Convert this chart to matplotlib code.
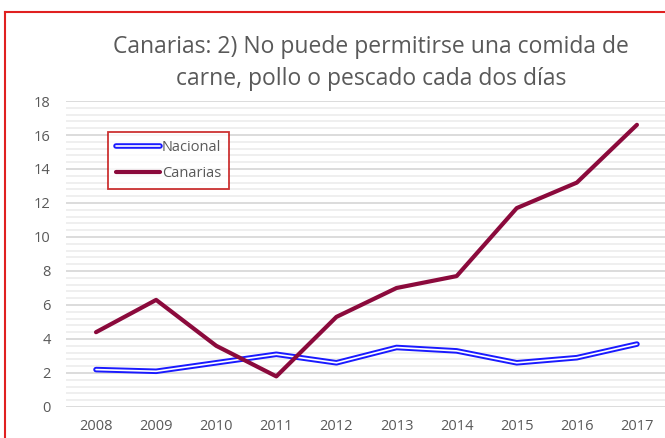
import matplotlib.pyplot as plt
import matplotlib.patheffects as pe
from matplotlib.lines import Line2D
from matplotlib.ticker import MultipleLocator

years = [2008, 2009, 2010, 2011, 2012, 2013, 2014, 2015, 2016, 2017]
nacional = [2.2, 2.1, 2.6, 3.1, 2.6, 3.5, 3.3, 2.6, 2.9, 3.7]
canarias = [4.4, 6.3, 3.6, 1.8, 5.3, 7.0, 7.7, 11.7, 13.2, 16.6]

plt.rcParams['font.family'] = ['Open Sans', 'DejaVu Sans']
grey = '#595959'

fig = plt.figure(figsize=(6.65, 4.38), dpi=100)
ax = fig.add_axes([0.0992, 0.0708, 0.9038, 0.6986])

# doble linea azul para Nacional
ax.plot(years, nacional, color='white', lw=1.2, solid_capstyle='round',
        path_effects=[pe.Stroke(linewidth=4.0, foreground='#1a1aff'), pe.Normal()],
        label='Nacional', zorder=3)
ax.plot(years, canarias, color='#8b0a3c', lw=3.0, solid_capstyle='round',
        label='Canarias', zorder=4)

ax.set_xlim(2007.5, 2017.5)
ax.set_ylim(0, 18)
ax.set_xticks(years)
ax.yaxis.set_major_locator(MultipleLocator(2))
ax.yaxis.set_minor_locator(MultipleLocator(0.4))
ax.grid(which='major', axis='y', color='#d9d9d9', lw=1.3)
ax.grid(which='minor', axis='y', color='#eeeeee', lw=1.3)
ax.set_axisbelow(True)
for s in ax.spines.values():
    s.set_visible(False)
ax.tick_params(which='both', length=0, colors=grey, labelsize=10.5)
ax.tick_params(axis='x', pad=9)
ax.tick_params(axis='y', pad=11)

leg = ax.legend(loc='upper left', bbox_to_anchor=(0.07, 0.9), borderaxespad=0,
                fontsize=10.5, frameon=True, fancybox=False, handlelength=3.0,
                handletextpad=0.15, labelspacing=0.8, borderpad=0.55)
leg.get_frame().set_edgecolor('#c00000')
leg.get_frame().set_linewidth(1.3)
for t in leg.get_texts():
    t.set_color(grey)

fig.text(0.558, 0.856, 'Canarias: 2) No puede permitirse una comida de\ncarne, pollo o pescado cada dos días',
         ha='center', va='center', fontsize=16.5, color=grey, linespacing=1.4)

# borde rojo recortado
fig.add_artist(Line2D([0.008, 0.008], [0, 0.973], color='#e02020', lw=1.5))
fig.add_artist(Line2D([0.008, 1.0], [0.973, 0.973], color='#e02020', lw=1.5))

fig.savefig('out.png', dpi=100)
